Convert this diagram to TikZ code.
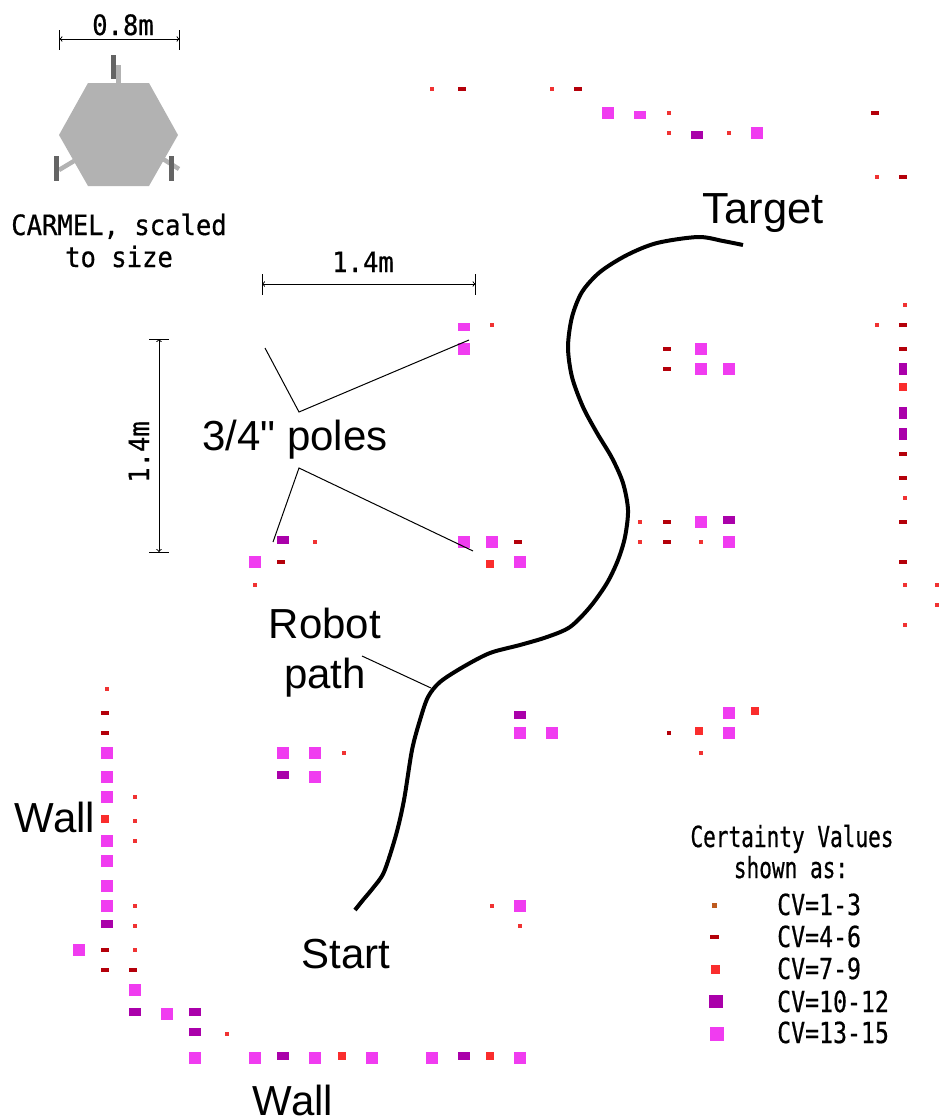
\documentclass[tikz,border=0pt]{standalone}
\usepackage{fontspec}
\newfontfamily\labelfont{Liberation Sans}
\newfontfamily\dimfont[FakeStretch=.913,FakeBold=.6]{DejaVu Sans Mono}
\newfontfamily\cvfont[FakeStretch=.80,FakeBold=.6]{DejaVu Sans Mono}
\newfontfamily\cvheadfont[FakeStretch=.727,FakeBold=.6]{DejaVu Sans Mono}
\definecolor{cvlow}{RGB}{240, 50, 50}
\definecolor{cvdark}{RGB}{180, 0, 10}
\definecolor{cvmid}{RGB}{250, 45, 45}
\definecolor{cvhigh}{RGB}{170, 0, 170}
\definecolor{cvtop}{RGB}{240, 60, 240}
\definecolor{cvkey}{RGB}{190, 90, 30}
\definecolor{hullgray}{RGB}{178, 178, 178}
\definecolor{wheelgray}{RGB}{100, 100, 100}
\tikzset{
  biglabel/.style={anchor=base, inner sep=0pt, font=\labelfont\fontsize{42}{42}\selectfont},
  dimlabel/.style={anchor=base, inner sep=0pt, font=\dimfont\fontsize{28}{28}\selectfont},
  keyhead/.style={anchor=base, inner sep=0pt, font=\cvheadfont\fontsize{29}{29}\selectfont},
  keylabel/.style={anchor=base west, inner sep=0pt, font=\cvfont\fontsize{29}{29}\selectfont},
  leader/.style={line width=1pt},
  dimline/.style={line width=1pt, <->, >=to},
  dimstop/.style={line width=1pt}
}
\begin{document}
\begin{tikzpicture}[x=1pt, y=-1pt]
  \useasboundingbox (0,0) rectangle (938,1119);

  % robot
  \fill[hullgray] (88,83) -- (149,83) -- (178,135) -- (149,186) -- (88,186) -- (59,135) -- cycle;
  \fill[hullgray]  (116,65) rectangle (121,83);
  \draw[hullgray, line width=4.5pt] (59,170) -- (74,161);
  \draw[hullgray, line width=4.5pt] (163,159) -- (179,169);
  \fill[wheelgray] (111,55) rectangle (116,79);
  \fill[wheelgray] (54,156) rectangle (59,181);
  \fill[wheelgray] (169,156) rectangle (174,181);

  % dimensions
  \coordinate (wideL)  at (59.5,39);
  \coordinate (wideR)  at (179.5,39);
  \coordinate (spanL)  at (262,284);
  \coordinate (spanR)  at (475.5,284);
  \coordinate (spanT)  at (159,339);
  \coordinate (spanB)  at (159,552);
  \draw[dimline] (wideL) -- (wideR);
  \draw[dimstop] (59.5,30) -- (59.5,50);
  \draw[dimstop] (179.5,30) -- (179.5,50);
  \draw[dimline] (spanL) -- (spanR);
  \draw[dimstop] (262,274) -- (262,295);
  \draw[dimstop] (475.5,274) -- (475.5,295);
  \draw[dimline] (spanT) -- (spanB);
  \draw[dimstop] (149,339) -- (169,339);
  \draw[dimstop] (149,552) -- (169,552);

  % map cells
  \foreach \x/\y in {430/87,550/87,667/111,667/131,727/131,875/175,903/303,875/323,
                     903/496,638/520,638/540,699/540,903/583,935/583,935/603,903/623,
                     490/323,313/540,253/583,105/687,342/751,133/795,133/819,133/839,
                     133/904,133/924,133/948,225/1032,699/751,490/904,518/924}
    \fill[cvlow] (\x,\y) rectangle ++(4,4);
  \fill[cvdark] (667,731) rectangle ++(4,4);
  \foreach \x/\y in {458/87,574/87,871/111,899/175,899/323,663/347,899/347,663/367,
                     899/452,899/476,663/520,899/520,663/540,899/560,514/540,277/560,
                     101/711,101/731,101/948,101/968,129/968}
    \fill[cvdark] (\x,\y) rectangle ++(8,4);
  \foreach \x/\y in {899/383,486/560,101/815,338/1052,486/1052,695/727,751/707}
    \fill[cvmid] (\x,\y) rectangle ++(8,8);
  \foreach \x/\y in {691/131,723/516,277/536,277/771,101/920,129/1008,189/1008,189/1028,
                     277/1052,458/1052,514/711}
    \fill[cvhigh] (\x,\y) rectangle ++(12,8);
  \foreach \y in {363,407,428}
    \fill[cvhigh] (899,\y) rectangle ++(8,12);
  \foreach \x/\y in {634/111,458/323}
    \fill[cvtop] (\x,\y) rectangle ++(12,8);
  \foreach \x/\y in {602/107,751/127,695/343,695/363,723/363,695/516,723/536,458/343,
                     458/536,486/536,249/556,514/556,101/747,277/747,309/747,101/771,
                     309/771,101/791,101/835,101/855,101/880,101/900,73/944,129/984,
                     161/1008,189/1052,249/1052,309/1052,366/1052,426/1052,514/1052,
                     514/900,514/727,546/727,723/707,723/727}
    \fill[cvtop] (\x,\y) rectangle ++(12,12);

  % robot path
  \draw[line width=4pt] plot[smooth, tension=0.5] coordinates {
    (355,910) (363,900) (373,888) (384,872) (396,835) (404,800) (412,750) (420,720)
    (428,697) (440,682) (463,667) (490,653) (520,645) (547,637)
    (570,627) (590,607) (607,583) (618,560) (625,537) (628,510) (623,483) (612,458)
    (597,433) (583,407) (572,377) (568,347) (572,317) (582,292) (600,272) (627,255)
    (657,243) (698,237) (723,241) (743,245)};

  % leaders
  \coordinate (topA)  at (265,348);
  \coordinate (topB)  at (299,412);
  \coordinate (topC)  at (469,340);
  \coordinate (lowA)  at (273,542);
  \coordinate (lowB)  at (299,468);
  \coordinate (lowC)  at (473,551);
  \coordinate (pathA) at (362,656);
  \coordinate (pathB) at (431,688);
  \draw[leader] (topA) -- (topB) -- (topC);
  \draw[leader] (lowA) -- (lowB) -- (lowC);
  \draw[leader] (pathA) -- (pathB);

  % labels
  \node[dimlabel] (wideText)  at (123,35)  {0.8m};
  \node[dimlabel] (robotOne)  at (119,235) {CARMEL, scaled};
  \node[dimlabel] (robotTwo)  at (119,267) {to size};
  \node[dimlabel] (spanText)  at (363,272) {1.4m};
  \node[dimlabel, rotate=90] (spanSide) at (149,452) {1.4m};
  \node[biglabel, font=\labelfont\fontsize{43.5}{43.5}\selectfont] (target) at (763,223) {Target};
  \node[biglabel] (poles)     at (295,450) {3/4" poles};
  \node[biglabel] (robotPath) at (325,638) {Robot};
  \node[biglabel] (pathWord)  at (325,688) {path};
  \node[biglabel] (wallLeft)  at (55,832)  {Wall};
  \node[biglabel] (start)     at (346,968) {Start};
  \node[biglabel] (wallLow)   at (293,1115) {Wall};

  % key
  \node[keyhead] (keyOne) at (792,847) {Certainty Values};
  \node[keyhead] (keyTwo) at (791,878) {shown as:};
  \fill[cvkey]  (712,903) rectangle ++(5,5);
  \fill[cvdark] (710,935) rectangle ++(9,4);
  \fill[cvmid]  (711,965) rectangle ++(9,9);
  \fill[cvhigh] (709,995) rectangle ++(14,13);
  \fill[cvtop]  (710,1027) rectangle ++(14,14);
  \node[keylabel] (cvA) at (777,915)  {CV=1-3};
  \node[keylabel] (cvB) at (777,947)  {CV=4-6};
  \node[keylabel] (cvC) at (777,979)  {CV=7-9};
  \node[keylabel] (cvD) at (777,1012) {CV=10-12};
  \node[keylabel] (cvE) at (777,1043) {CV=13-15};
\end{tikzpicture}
\end{document}
